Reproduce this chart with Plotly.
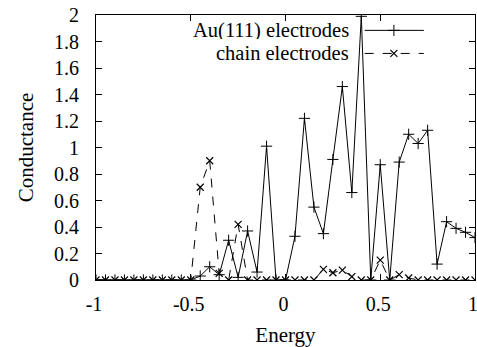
import plotly.graph_objects as go

energy = [round(-1 + 0.05 * i, 2) for i in range(41)]

au111 = [0, 0, 0, 0, 0, 0, 0, 0, 0, 0,
         0.0, 0.03, 0.1, 0.04, 0.3, 0.02, 0.37, 0.06, 1.01, 0.0,
         0.0, 0.33, 1.22, 0.55, 0.35, 0.91, 1.46, 0.66, 1.99, 0.0,
         0.87, 0.0, 0.89, 1.1, 1.03, 1.13, 0.12, 0.44, 0.39, 0.36, 0.32]

chain = [0, 0, 0, 0, 0, 0, 0, 0, 0, 0,
         0.0, 0.7, 0.9, 0.05, 0.0, 0.42, 0.0, 0.0, 0.0, 0.0,
         0.0, 0.0, 0.0, 0.0, 0.08, 0.055, 0.075, 0.025, 0.0, 0.0,
         0.15, 0.0, 0.04, 0.015, 0.0, 0.0, 0.0, 0.0, 0.0, 0.0, 0.0]

names = ["Au(111) electrodes", "chain electrodes"]
x_ticks = [-1, -0.5, 0, 0.5, 1]
x_labels = ["-1", "-0.5", "0", "0.5", "1"]
y_ticks = [0, 0.2, 0.4, 0.6, 0.8, 1, 1.2, 1.4, 1.6, 1.8, 2]
y_labels = ["0", "0.2", "0.4", "0.6", "0.8", "1", "1.2", "1.4", "1.6", "1.8", "2"]

FONT = "Liberation Serif, Times New Roman, DejaVu Serif, serif"
BLACK = "black"

fig = go.Figure()
fig.add_trace(go.Scatter(
    x=energy, y=au111, mode="lines+markers", name=names[0],
    line=dict(color=BLACK, width=1),
    marker=dict(symbol="cross-thin", size=8, line=dict(color=BLACK, width=1)),
    showlegend=False,
))
fig.add_trace(go.Scatter(
    x=energy, y=chain, mode="lines+markers", name=names[1],
    line=dict(color=BLACK, width=1, dash="dash"),
    marker=dict(symbol="x-thin", size=7, line=dict(color=BLACK, width=1.2)),
    showlegend=False,
))

# gnuplot-style key: text right-aligned, sample to its right (overlay axes 0..1)
key_x = [0.709, 0.786, 0.865]
key_y = [0.942, 0.855]
fig.add_trace(go.Scatter(
    x=key_x, y=[key_y[0]] * 3, xaxis="x2", yaxis="y2", mode="lines+markers",
    line=dict(color=BLACK, width=1),
    marker=dict(symbol="cross-thin", size=8, line=dict(color=BLACK, width=1)),
    showlegend=False, hoverinfo="skip",
    selectedpoints=[1],
    selected=dict(marker=dict(opacity=1)), unselected=dict(marker=dict(opacity=0)),
))
fig.add_trace(go.Scatter(
    x=key_x, y=[key_y[1]] * 3, xaxis="x2", yaxis="y2", mode="lines+markers",
    line=dict(color=BLACK, width=1, dash="dash"),
    marker=dict(symbol="x-thin", size=7, line=dict(color=BLACK, width=1.2)),
    showlegend=False, hoverinfo="skip",
    selectedpoints=[1],
    selected=dict(marker=dict(opacity=1)), unselected=dict(marker=dict(opacity=0)),
))

for name, yy in zip(names, key_y):
    fig.add_annotation(
        x=0.67, y=yy, xref="x2", yref="y2", text=name, showarrow=False,
        xanchor="right", yanchor="middle", height=18, valign="middle", borderpad=0,
        font=dict(family=FONT, size=20.5, color=BLACK),
    )

axis_common = dict(
    showgrid=False, zeroline=False, showline=True, linecolor=BLACK, linewidth=1,
    mirror="allticks", ticks="inside", ticklen=6, tickwidth=1, tickcolor=BLACK,
    tickfont=dict(family=FONT, size=20, color=BLACK), ticklabeloverflow="allow",
)

fig.update_layout(
    width=477, height=347,
    margin=dict(l=96, r=2, t=15, b=67, autoexpand=False),
    paper_bgcolor="white", plot_bgcolor="white",
    font=dict(family=FONT, color=BLACK),
    xaxis=dict(range=[-1, 1], tickvals=x_ticks, ticktext=x_labels,
               title=dict(text="Energy", font=dict(family=FONT, size=21, color=BLACK), standoff=15),
               ticklabelstandoff=6, ticklabelshift=-2, automargin=False, **axis_common),
    yaxis=dict(range=[0, 2], tickvals=y_ticks, ticktext=y_labels,
               title=dict(text="Conductance", font=dict(family=FONT, size=21, color=BLACK), standoff=14),
               ticklabelstandoff=12, automargin=False, **axis_common),
    xaxis2=dict(range=[0, 1], overlaying="x", visible=False, fixedrange=True),
    yaxis2=dict(range=[0, 1], overlaying="y", visible=False, fixedrange=True),
    showlegend=False,
)

fig.write_html(
    "out.html",
    config={"displayModeBar": False},
    post_script="document.body.style.margin='0';document.body.style.overflow='hidden';",
)
